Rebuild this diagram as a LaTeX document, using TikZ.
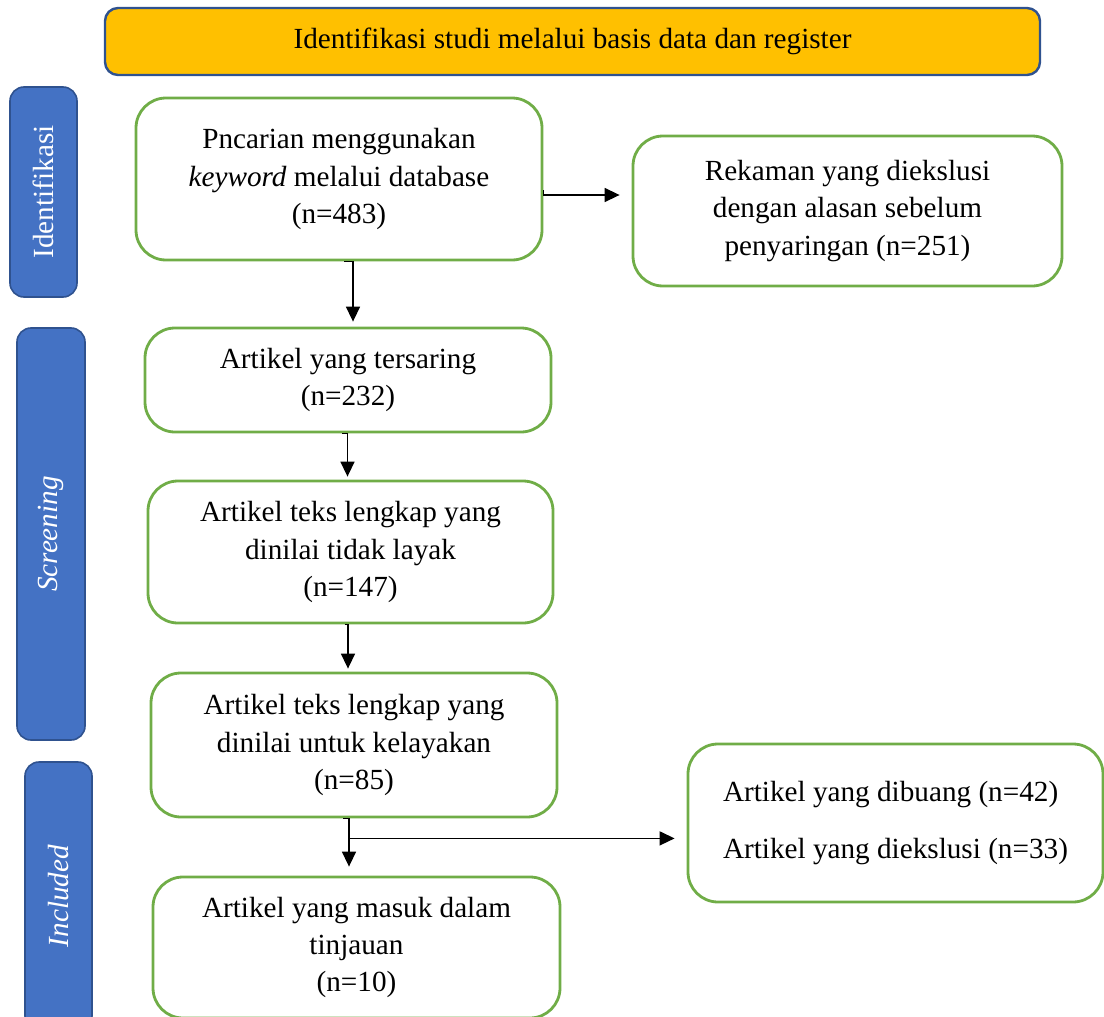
\documentclass[tikz,border=0pt]{standalone}
\usepackage{fontspec}
\setmainfont{Liberation Serif}
\usetikzlibrary{arrows.meta,calc}
\definecolor{hijau}{HTML}{70AD47}
\definecolor{biru}{HTML}{4472C4}
\definecolor{birutua}{HTML}{2F528F}
\definecolor{oranye}{HTML}{FFC000}
\tikzset{
    huruf/.style={font=\fontsize{14.6}{18.6}\selectfont},
    kotak/.style={huruf, draw=hijau, line width=1.4pt, rounded corners=15pt, align=center, inner sep=0pt},
    samping/.style={huruf, draw=birutua, fill=biru, line width=0.8pt, rounded corners=7pt, rotate=90, text=white, inner sep=0pt},
    panah/.style={-{Triangle[length=7.5pt,width=7pt]}, line width=0.75pt}
}
\begin{document}
\begin{tikzpicture}[x=0.5pt,y=-0.5pt]
            \useasboundingbox ( 0, 0 ) rectangle ( 1104, 1017 );

            % judul
            \node [huruf, draw=birutua, fill=oranye, line width=1.2pt, rounded corners=6.5pt, minimum width=467.5pt, minimum height=33.5pt] (judul) at ( 572.5, 41.5 ) {Identifikasi studi melalui basis data dan register};

            % label samping
            \node [samping, minimum width=105pt, minimum height=33.5pt] (identifikasi) at ( 43.5, 192 ) {Identifikasi};
            \node [samping, minimum width=206pt, minimum height=34pt] (screening) at ( 51, 534 ) {\textit{Screening}};
            \node [samping, minimum width=134pt, minimum height=33.5pt] (included) at ( 58.5, 896 ) {\textit{Included}};

            % kotak
            \node [kotak, minimum width=203pt, minimum height=81pt] (pencarian) at ( 339, 179 ) {Pncarian menggunakan\\\textit{keyword} melalui database\\(n=483)};
            \node [kotak, minimum width=214.5pt, minimum height=75pt] (rekaman) at ( 847.5, 211 ) {Rekaman yang diekslusi\\dengan alasan sebelum\\penyaringan (n=251)};
            \node [kotak, minimum width=203pt, minimum height=52pt] (tersaring) at ( 348, 380 ) {Artikel yang tersaring\\(n=232)};
            \node [kotak, minimum width=202.5pt, minimum height=71pt] (tidaklayak) at ( 350.5, 552 ) {Artikel teks lengkap yang\\dinilai tidak layak\\(n=147)};
            \node [kotak, minimum width=203pt, minimum height=72pt] (kelayakan) at ( 354, 745 ) {Artikel teks lengkap yang\\dinilai untuk kelayakan\\(n=85)};
            \node [kotak, minimum width=203.5pt, minimum height=70.5pt] (tinjauan) at ( 356.5, 947.5 ) {Artikel yang masuk dalam\\tinjauan\\(n=10)};
            \node [kotak, minimum width=207.5pt, minimum height=79pt, align=left] (dibuang) at ( 895.5, 823 ) {Artikel yang dibuang (n=42)\\[10pt]Artikel yang diekslusi (n=33)};

            % panah
            \draw [panah, shorten >=6pt] ([yshift=-5.5pt]pencarian.east) |- ([yshift=-8pt]pencarian.east -| rekaman.west);
            \draw [panah, shorten >=2.5pt] ([xshift=2.5pt]pencarian.south) -| ([xshift=2.5pt]tersaring.north);
            \draw [panah, shorten >=1.5pt] ([xshift=-3pt]tersaring.south) -| ([xshift=-1.5pt]tidaklayak.north);
            \draw [panah, shorten >=1.5pt] ([xshift=-3pt]tidaklayak.south) -| ([xshift=-3pt]kelayakan.north);
            \draw [panah, shorten >=4.5pt] ([xshift=-5.5pt]kelayakan.south) -| ([xshift=-3.75pt]tinjauan.north);

            % cabang
            \coordinate (cabang) at ($(kelayakan.south)+(-2.5pt,-10pt)$);
            \draw [panah, shorten >=6pt] (cabang) -- (cabang -| dibuang.west);
        \end{tikzpicture}
\end{document}
